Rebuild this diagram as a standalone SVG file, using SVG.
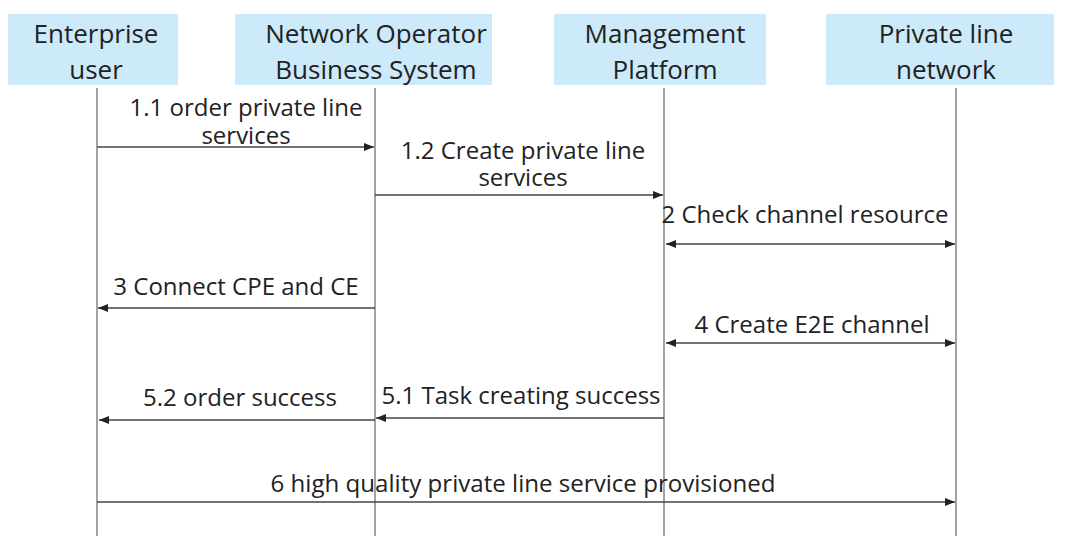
<svg xmlns="http://www.w3.org/2000/svg" width="1069" height="536" viewBox="0 0 1069 536">
<style>
.box{fill:#cdeafa;}
.t{font-family:"Open Sans","Noto Sans",sans-serif;font-size:24px;fill:#222;text-anchor:middle;}
.h{font-family:"Open Sans","Noto Sans",sans-serif;font-size:26px;fill:#222;text-anchor:middle;}
.life{stroke:#666;stroke-width:1.2;fill:none;}
.msg{stroke:#444;stroke-width:1.4;fill:none;}
</style>
<defs>
<marker id="ah" viewBox="0 0 10 10" refX="10" refY="5" markerWidth="10" markerHeight="10" markerUnits="userSpaceOnUse" orient="auto-start-reverse">
<path d="M0,1 L10,5 L0,9 z" fill="#222"/>
</marker>
</defs>
<rect width="1069" height="536" fill="#fff"/>
<g id="enterprise-user">
<rect class="box" x="8" y="14" width="170" height="71"/>
<text class="h" x="96" y="43">Enterprise<tspan x="96" dy="36">user</tspan></text>
<line class="life" x1="97" y1="88" x2="97" y2="536"/>
</g>
<g id="operator-business-system">
<rect class="box" x="235" y="14" width="257" height="71"/>
<text class="h" x="376" y="43">Network Operator<tspan x="376" dy="36">Business System</tspan></text>
<line class="life" x1="375" y1="88" x2="375" y2="536"/>
</g>
<g id="management-platform">
<rect class="box" x="554" y="14" width="212" height="71"/>
<text class="h" x="665" y="43">Management<tspan x="665" dy="36">Platform</tspan></text>
<line class="life" x1="664" y1="88" x2="664" y2="536"/>
</g>
<g id="private-line-network">
<rect class="box" x="826" y="14" width="228" height="71"/>
<text class="h" x="946" y="43">Private line<tspan x="946" dy="36">network</tspan></text>
<line class="life" x1="956" y1="88" x2="956" y2="536"/>
</g>
<g id="connectors">
<line class="msg" x1="97" y1="147" x2="374" y2="147" marker-end="url(#ah)"/>
<text class="t" x="246" y="116">1.1 order private line<tspan x="246" dy="28">services</tspan></text>
<line class="msg" x1="375" y1="195" x2="663" y2="195" marker-end="url(#ah)"/>
<text class="t" x="523" y="159">1.2 Create private line<tspan x="523" dy="27">services</tspan></text>
<line class="msg" x1="666" y1="244" x2="955" y2="244" marker-start="url(#ah)" marker-end="url(#ah)"/>
<text class="t" x="805" y="223">2 Check channel resource</text>
<line class="msg" x1="375" y1="308" x2="98" y2="308" marker-end="url(#ah)"/>
<text class="t" x="236" y="295">3 Connect CPE and CE</text>
<line class="msg" x1="666" y1="343" x2="955" y2="343" marker-start="url(#ah)" marker-end="url(#ah)"/>
<text class="t" x="812" y="333">4 Create E2E channel</text>
<line class="msg" x1="664" y1="418" x2="376" y2="418" marker-end="url(#ah)"/>
<text class="t" x="521" y="404">5.1 Task creating success</text>
<line class="msg" x1="375" y1="420" x2="99" y2="420" marker-end="url(#ah)"/>
<text class="t" x="240" y="406">5.2 order success</text>
<line class="msg" x1="97" y1="502" x2="955" y2="502" marker-end="url(#ah)"/>
<text class="t" x="523" y="492" textLength="505" lengthAdjust="spacingAndGlyphs">6 high quality private line service provisioned</text>
</g>
</svg>
